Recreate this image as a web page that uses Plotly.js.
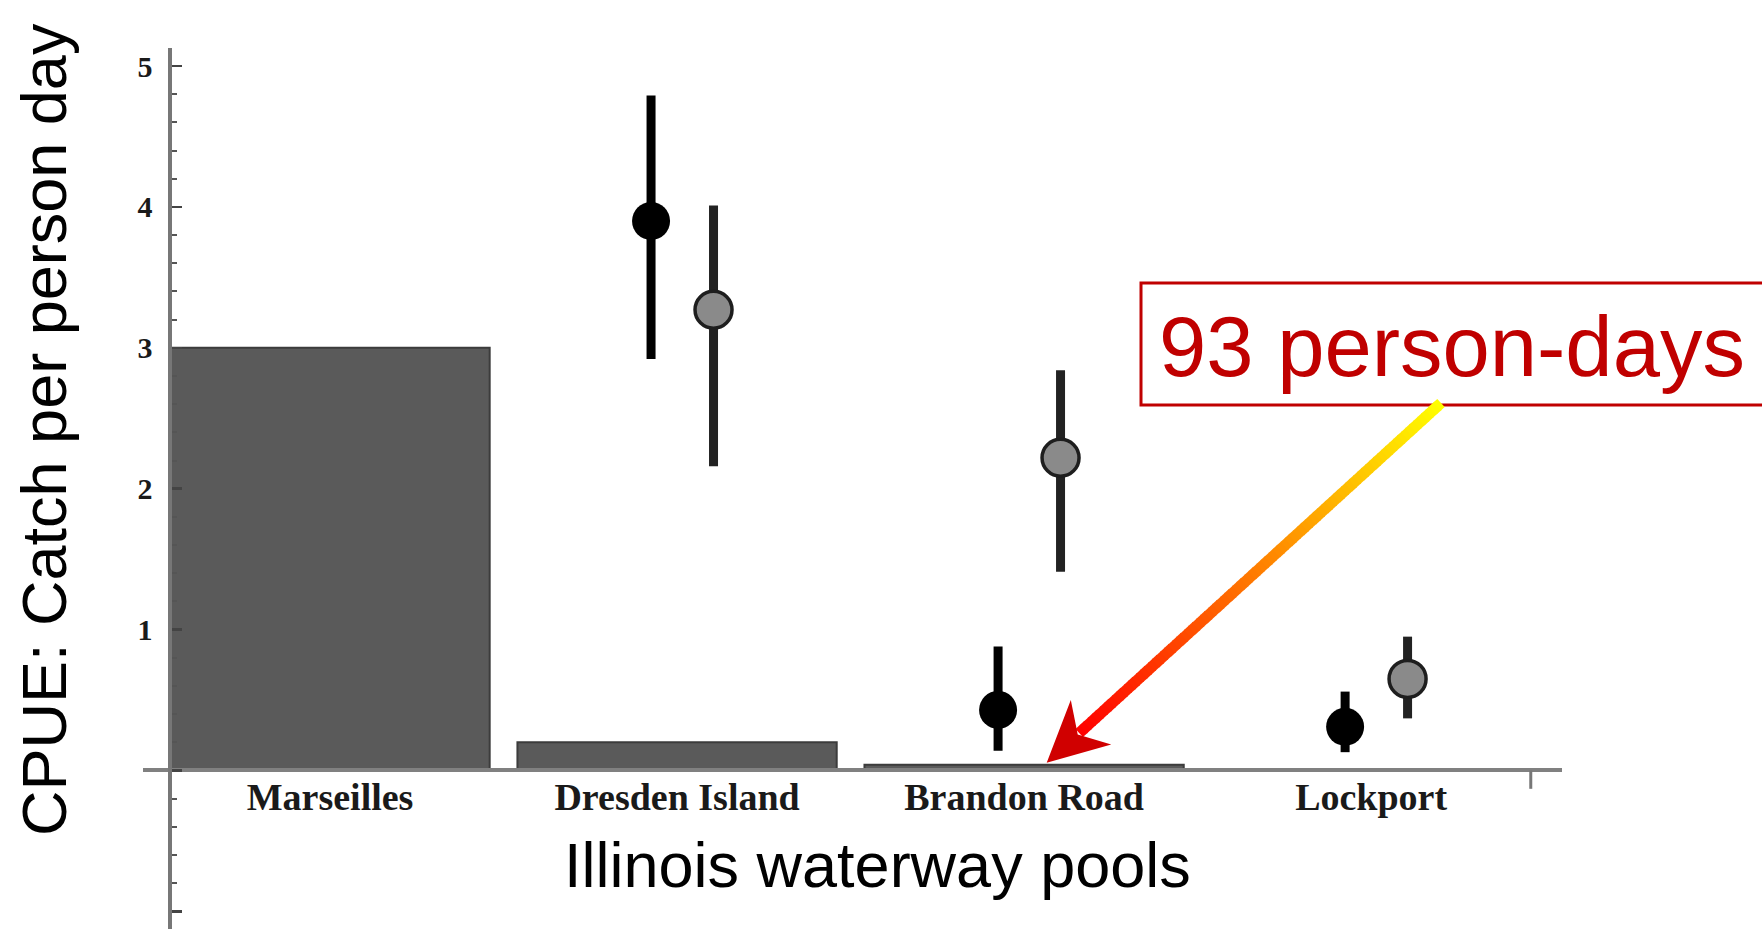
<!DOCTYPE html>
<html>
<head>
<meta charset="utf-8">
<script src="https://cdn.plot.ly/plotly-3.0.1.min.js"></script>
<style>
  html, body { margin: 0; padding: 0; background: #ffffff; }
  #chart { width: 1762px; height: 929px; }
</style>
</head>
<body>
<div id="chart"></div>
<script>
// Illinois waterway pools
const categories = ['Marseilles', 'Dresden Island', 'Brandon Road', 'Lockport'];

// Bar heights (CPUE)
const barValues = [3.0, 0.2, 0.04, 0];

// Black series: mean with upper / lower interval ends
const blackMean  = [null, 3.90, 0.43, 0.31];
const blackUpper = [null, 4.79, 0.88, 0.56];
const blackLower = [null, 2.92, 0.14, 0.13];

// Grey series: mean with upper / lower interval ends
const greyMean  = [null, 3.27, 2.22, 0.65];
const greyUpper = [null, 4.01, 2.84, 0.95];
const greyLower = [null, 2.16, 1.41, 0.37];

// Y tick values and their labels
const yTickVals = [-1, 0, 1, 2, 3, 4, 5];
const yTickText = ['', '', '1', '2', '3', '4', '5'];

const noteText = '93 person-days';
const xTitle = 'Illinois waterway pools';
const yTitle = 'CPUE: Catch per person day';

// ---- geometry ----
const W = 1762, H = 929;
const ML = 143, MR = 200, MT = 48, MB = 0;
const PW = W - ML - MR, PH = H - MT - MB;
const xRange = [-0.539, 3.550];
const yRange = [-1.125, 5.128];
const BAR_W = 0.92;
const BLACK_OFF = -0.075, GREY_OFF = 0.105;

const idx = categories.map((_, i) => i);
const yZeroFrac = (0 - yRange[0]) / (yRange[1] - yRange[0]);
const yAxisFrac = (-BAR_W / 2 - xRange[0]) / (xRange[1] - xRange[0]);

const px2paperX = px => (px - ML) / PW;
const py2paperY = py => (MT + PH - py) / PH;

const upErr = (u, m) => u.map((v, i) => (v == null || m[i] == null) ? null : v - m[i]);
const downErr = (l, m) => l.map((v, i) => (v == null || m[i] == null) ? null : m[i] - v);

const traces = [
  {
    type: 'bar',
    x: idx,
    y: barValues,
    width: BAR_W,
    marker: { color: '#5a5a5a', line: { color: '#3c3c3c', width: 2 } },
    hoverinfo: 'skip'
  },
  {
    type: 'scatter',
    mode: 'markers',
    x: idx.map(i => i + BLACK_OFF),
    y: blackMean,
    marker: { color: '#000000', size: 38 },
    error_y: {
      type: 'data', symmetric: false,
      array: upErr(blackUpper, blackMean),
      arrayminus: downErr(blackLower, blackMean),
      color: '#000000', thickness: 9, width: 0
    },
    hoverinfo: 'skip'
  },
  {
    type: 'scatter',
    mode: 'markers',
    x: idx.map(i => i + GREY_OFF),
    y: greyMean,
    marker: { color: '#8a8a8a', size: 37, line: { color: '#1e1e1e', width: 3.5 } },
    error_y: {
      type: 'data', symmetric: false,
      array: upErr(greyUpper, greyMean),
      arrayminus: downErr(greyLower, greyMean),
      color: '#222222', thickness: 9, width: 0
    },
    hoverinfo: 'skip'
  }
];

// ---- callout box and gradient arrow ----
const shapes = [];
shapes.push({
  type: 'rect', xref: 'paper', yref: 'paper',
  x0: px2paperX(1141), x1: px2paperX(1820),
  y0: py2paperY(405), y1: py2paperY(283),
  line: { color: '#C00000', width: 3 }, fillcolor: '#ffffff', layer: 'above'
});

// end tick of the category axis
shapes.push({
  type: 'line', xref: 'x', yref: 'y',
  x0: categories.length - 1 + BAR_W / 2, x1: categories.length - 1 + BAR_W / 2,
  y0: 0, y1: -0.13,
  line: { color: '#777777', width: 3 }
});

const tip = [1046.7, 762.7], tail = [1441, 403];
const dx = tail[0] - tip[0], dy = tail[1] - tip[1];
const len = Math.hypot(dx, dy);
const ux = dx / len, uy = dy / len, nx = -uy, ny = ux;
const HEAD_LEN = 60, HEAD_HALF = 30, NOTCH = 42, SHAFT_W = 11;
const shaftStart = [tip[0] + ux * (NOTCH + 2), tip[1] + uy * (NOTCH + 2)];
const SEG = 90;
for (let i = 0; i < SEG; i++) {
  const t0 = i / SEG, t1 = (i + 1) / SEG;
  const ext = i < SEG - 1 ? 1.2 : 0;
  const ax = shaftStart[0] + (tail[0] - shaftStart[0]) * t0;
  const ay = shaftStart[1] + (tail[1] - shaftStart[1]) * t0;
  const bx = shaftStart[0] + (tail[0] - shaftStart[0]) * t1 + ux * ext;
  const by = shaftStart[1] + (tail[1] - shaftStart[1]) * t1 + uy * ext;
  const g = Math.round(255 * (t0 + t1) / 2);
  shapes.push({
    type: 'line', xref: 'paper', yref: 'paper',
    x0: px2paperX(ax), y0: py2paperY(ay), x1: px2paperX(bx), y1: py2paperY(by),
    line: { color: `rgb(255,${g},0)`, width: SHAFT_W }, layer: 'above'
  });
}
const headPts = [
  tip,
  [tip[0] + ux * HEAD_LEN + nx * HEAD_HALF, tip[1] + uy * HEAD_LEN + ny * HEAD_HALF],
  [tip[0] + ux * NOTCH, tip[1] + uy * NOTCH],
  [tip[0] + ux * HEAD_LEN - nx * HEAD_HALF, tip[1] + uy * HEAD_LEN - ny * HEAD_HALF]
];
shapes.push({
  type: 'path', xref: 'paper', yref: 'paper',
  path: 'M' + headPts.map(p => px2paperX(p[0]) + ',' + py2paperY(p[1])).join(' L') + ' Z',
  fillcolor: '#d00000', line: { width: 0 }, layer: 'above'
});

const annotations = [
  {
    xref: 'paper', yref: 'paper', x: px2paperX(44), y: py2paperY(430),
    text: yTitle, textangle: -90, showarrow: false,
    xanchor: 'center', yanchor: 'middle',
    font: { family: 'Liberation Sans, Arial, sans-serif', size: 63, color: '#000000' }
  },
  {
    xref: 'paper', yref: 'paper', x: px2paperX(877), y: py2paperY(865),
    text: xTitle, showarrow: false,
    xanchor: 'center', yanchor: 'middle',
    font: { family: 'Liberation Sans, Arial, sans-serif', size: 63, color: '#000000' }
  },
  {
    xref: 'paper', yref: 'paper', x: px2paperX(1157), y: py2paperY(347),
    text: noteText, showarrow: false,
    xanchor: 'left', yanchor: 'middle',
    font: { family: 'Liberation Sans, Arial, sans-serif', size: 85, color: '#C00000' }
  }
];

const layout = {
  width: W, height: H,
  margin: { l: ML, r: MR, t: MT, b: MB, pad: 0 },
  paper_bgcolor: '#ffffff', plot_bgcolor: '#ffffff',
  showlegend: false, hovermode: false,
  xaxis: {
    range: xRange, anchor: 'free', position: yZeroFrac,
    showline: true, linecolor: '#808080', linewidth: 4,
    showgrid: false, zeroline: false,
    tickmode: 'array', tickvals: idx, ticktext: categories, ticks: '',
    ticklabelstandoff: -8,
    tickfont: { family: 'Liberation Serif, Times New Roman, serif', size: 38, color: '#1a1a1a', weight: 'bold' },
    fixedrange: true
  },
  yaxis: {
    range: yRange, anchor: 'free', position: yAxisFrac,
    showline: true, linecolor: '#777777', linewidth: 4,
    showgrid: false, zeroline: false,
    tickmode: 'array', tickvals: yTickVals, ticktext: yTickText,
    ticks: 'inside', ticklen: 10, tickwidth: 2.5, tickcolor: '#444444',
    minor: { tickmode: 'linear', tick0: 0, dtick: 0.2, ticks: 'inside', ticklen: 5, tickwidth: 2, tickcolor: '#555555' },
    ticklabelstandoff: 10,
    tickfont: { family: 'Liberation Serif, Times New Roman, serif', size: 30, color: '#1a1a1a', weight: 'bold' },
    fixedrange: true
  },
  shapes: shapes,
  annotations: annotations
};

Plotly.newPlot('chart', traces, layout, { staticPlot: true, displayModeBar: false });
</script>
</body>
</html>
